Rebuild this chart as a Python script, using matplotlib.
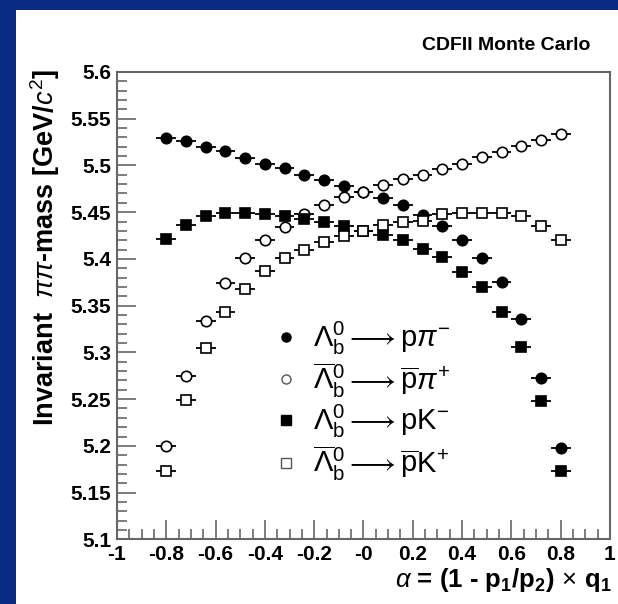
import matplotlib
matplotlib.use("Agg")
import matplotlib.pyplot as plt
from matplotlib.lines import Line2D
from matplotlib.patches import Rectangle

plt.rcParams['font.family'] = ['Liberation Sans', 'DejaVu Sans']
plt.rcParams['mathtext.fontset'] = 'custom'
plt.rcParams['mathtext.rm'] = 'Liberation Sans'
plt.rcParams['mathtext.it'] = 'Liberation Sans:italic'
plt.rcParams['mathtext.bf'] = 'Liberation Sans:bold'

# alpha bin centres
alpha = [-0.80, -0.72, -0.64, -0.56, -0.48, -0.40, -0.32, -0.24, -0.16, -0.08, 0.00,
         0.08, 0.16, 0.24, 0.32, 0.40, 0.48, 0.56, 0.64, 0.72, 0.80]
alpha_err = [0.04] * len(alpha)

# invariant pi-pi mass per bin [GeV/c^2]
lb_ppi = [5.529, 5.526, 5.520, 5.515, 5.508, 5.502, 5.497, 5.490, 5.484, 5.478, 5.472,
          5.465, 5.458, 5.447, 5.435, 5.420, 5.401, 5.375, 5.336, 5.273, 5.198]
lbbar_ppi = [5.200, 5.275, 5.334, 5.374, 5.401, 5.420, 5.434, 5.448, 5.458, 5.466, 5.472,
             5.479, 5.485, 5.490, 5.496, 5.502, 5.509, 5.514, 5.521, 5.527, 5.534]
lb_pk = [5.421, 5.436, 5.446, 5.449, 5.449, 5.448, 5.446, 5.443, 5.440, 5.435, 5.430,
         5.426, 5.420, 5.411, 5.402, 5.386, 5.370, 5.343, 5.306, 5.248, 5.173]
lbbar_pk = [5.173, 5.249, 5.305, 5.343, 5.368, 5.387, 5.401, 5.410, 5.418, 5.425, 5.430,
            5.436, 5.439, 5.441, 5.448, 5.449, 5.449, 5.449, 5.446, 5.435, 5.420]

labels = [r"$\Lambda_{\mathrm{b}}^{0}\longrightarrow\mathrm{p}\pi^{\mathrm{-}}$",
          r"$\overline{\Lambda}_{\mathrm{b}}^{0}\longrightarrow\overline{\mathrm{p}}\pi^{+}$",
          r"$\Lambda_{\mathrm{b}}^{0}\longrightarrow\mathrm{pK}^{\mathrm{-}}$",
          r"$\overline{\Lambda}_{\mathrm{b}}^{0}\longrightarrow\overline{\mathrm{p}}\mathrm{K}^{+}$"]

xticks = [-1, -0.8, -0.6, -0.4, -0.2, 0, 0.2, 0.4, 0.6, 0.8, 1]
xticklabels = ["-1", "-0.8", "-0.6", "-0.4", "-0.2", "-0", "0.2", "0.4", "0.6", "0.8", "1"]
yticks = [5.1, 5.15, 5.2, 5.25, 5.3, 5.35, 5.4, 5.45, 5.5, 5.55, 5.6]
yticklabels = ["5.1", "5.15", "5.2", "5.25", "5.3", "5.35", "5.4", "5.45", "5.5", "5.55", "5.6"]

blue = '#0a2b82'
frame = '#666666'

fig = plt.figure(figsize=(6.18, 6.04), dpi=100)
fig.patch.set_facecolor(blue)
fig.add_artist(Rectangle((16 / 618, 0), 1, 1 - 10 / 604, transform=fig.transFigure,
                         facecolor='white', edgecolor='none', zorder=-1))

ax = fig.add_axes([0.1893, 0.1071, 0.7977, 0.7737])

series = [(lb_ppi, 'o', 'black'), (lbbar_ppi, 'o', 'white'),
          (lb_pk, 's', 'black'), (lbbar_pk, 's', 'white')]
for vals, mk, face in series:
    ax.errorbar(alpha, vals, xerr=alpha_err, fmt=mk, mfc=face, mec='black',
                mew=1.2, ms=7.5, ecolor='black', elinewidth=1.3, capsize=0)

ax.set_xlim(-1, 1)
ax.set_ylim(5.1, 5.6)
ax.set_xticks(xticks, xticklabels)
ax.set_yticks(yticks, yticklabels)
ax.set_xticks([x / 20 for x in range(-20, 21)], minor=True)
ax.set_yticks([5.1 + i * 0.01 for i in range(51)], minor=True)
ax.tick_params(which='both', direction='in', color=frame, width=1.2,
               top=False, right=False)
ax.tick_params(which='major', length=14, labelsize=15, pad=4)
ax.tick_params(which='minor', length=7)
for lab in ax.get_xticklabels() + ax.get_yticklabels():
    lab.set_fontweight('bold')
for sp in ax.spines.values():
    sp.set_color(frame)
    sp.set_linewidth(1.5)

handles = [Line2D([], [], ls='none', marker='o', mfc='black', mec='black', ms=6.5),
           Line2D([], [], ls='none', marker='o', mfc='white', mec='#555555', ms=6.5),
           Line2D([], [], ls='none', marker='s', mfc='black', mec='black', ms=6.5),
           Line2D([], [], ls='none', marker='s', mfc='white', mec='#555555', ms=6.5)]
ax.legend(handles, labels, loc='upper left', bbox_to_anchor=(0.32, 0.47),
          frameon=False, fontsize=21, handlelength=0.8, handletextpad=0.5,
          labelspacing=0.12, borderaxespad=0, borderpad=0)

fig.text(45 / 618, 1 - 248 / 604, r"Invariant  $\pi\pi$-mass [GeV/$c^{2}$]",
         rotation=90, ha='center', va='center', fontsize=19.5, fontweight='bold')
fig.text(612 / 618, 1 - 580 / 604,
         r"$\alpha$ = (1 - p$_{\mathbf{1}}$/p$_{\mathbf{2}}$)$\,\times\,$q$_{\mathbf{1}}$",
         ha='right', va='center', fontsize=18.5, fontweight='bold')
fig.text(590 / 618, 1 - 45 / 604, "CDFII Monte Carlo", ha='right', va='center',
         fontsize=14, fontweight='bold')

fig.savefig("out.png", dpi=100, facecolor=fig.get_facecolor())
